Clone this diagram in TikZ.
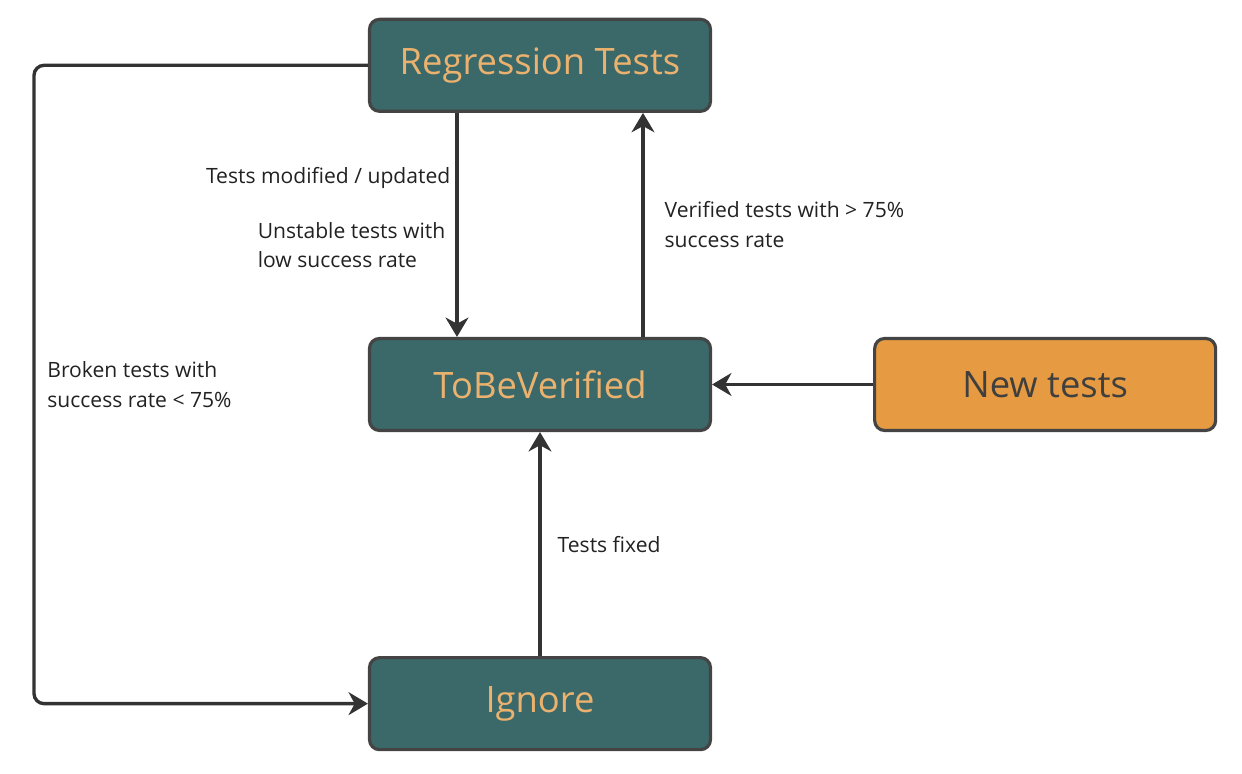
\documentclass[tikz,border=0pt]{standalone}
\usepackage{fontspec}
\setmainfont{Open Sans}
\usetikzlibrary{positioning,arrows.meta}

\definecolor{tealbox}{RGB}{59,104,105}
\definecolor{boxtext}{RGB}{234,178,110}
\definecolor{newfill}{RGB}{230,154,65}
\definecolor{newtext}{RGB}{63,63,63}
\definecolor{boxline}{RGB}{68,68,68}
\definecolor{arrowline}{RGB}{51,51,51}
\definecolor{labeltext}{RGB}{34,34,34}

\begin{document}
\begin{tikzpicture}[
  node distance=4.48cm and 3.22cm,
  box/.style={draw=boxline, line width=1.8pt, rounded corners=5.7pt, fill=tealbox, text=boxtext, minimum width=6.82cm, minimum height=1.84cm, font=\fontsize{20.7}{24}\selectfont},
  newbox/.style={box, fill=newfill, text=newtext},
  lbl/.style={font=\fontsize{12}{17}\selectfont, text=labeltext, align=left, inner sep=0pt},
  arrow/.style={-{Stealth[length=11pt,width=13pt,inset=3.5pt]}, line width=1.9pt, draw=arrowline}
]

% States
\node[box] (tbv) {ToBeVerified};
\node[box, above=of tbv] (reg) {Regression Tests};
\node[box, below=of tbv] (ign) {Ignore};
\node[newbox, right=of tbv] (new) {New tests};

% left loop line
\coordinate (loop) at (-10.12,0);

\useasboundingbox (-10.8,-7.79) rectangle (14.04,7.69);

% Transitions
\draw[arrow] ([xshift=-1.66cm]reg.south) --
  node[lbl, pos=0.29, anchor=east, xshift=-0.1cm] {Tests modified / updated}
  node[lbl, pos=0.59, anchor=east, xshift=-0.2cm] {Unstable tests with\\low success rate}
  ([xshift=-1.66cm]tbv.north);

\draw[arrow] ([xshift=2.06cm]tbv.north) --
  node[lbl, pos=0.5, anchor=west, xshift=0.4cm] {Verified tests with > 75\%\\success rate}
  ([xshift=2.06cm]reg.south);

\draw[arrow] (new) -- (tbv);

\draw[arrow] (ign) -- node[lbl, pos=0.5, anchor=west, xshift=0.32cm] {Tests fixed} (tbv);

% Broken tests go to Ignore
\draw[arrow, rounded corners=5.7pt] (reg.west) -| (loop) |- (ign.west);
\node[lbl, anchor=west, xshift=0.26cm] (broken) at (loop) {Broken tests with\\success rate < 75\%};

\end{tikzpicture}
\end{document}
